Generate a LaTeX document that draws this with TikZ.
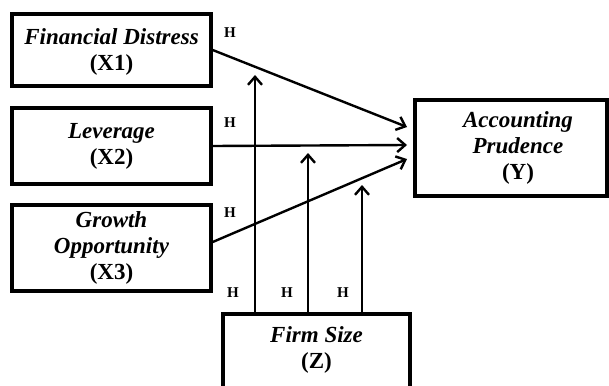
\documentclass[tikz,border=0pt]{standalone}
\usepackage{fontspec}
\setmainfont{Liberation Serif}
\usetikzlibrary{fit,arrows.meta}

\begin{document}
\begin{tikzpicture}[x=1pt,y=-1pt,
    var/.style={draw, line width=3.4pt, inner sep=0pt},
    vtext/.style={align=center, font=\fontsize{23}{26}\selectfont\bfseries},
    hyp/.style={font=\fontsize{15}{17}\selectfont\bfseries},
    link/.style={line width=2.4pt, -{Straight Barb[length=8pt,width=14pt,line width=2.4pt]}}]
    \clip (0,0) rectangle (609,385);

    \node[var, fit={(12,14) (211,86)}, label={[vtext,yshift=-2pt]center:{\textit{Financial Distress}\\(X1)}}] (x1) {};
    \node[var, fit={(12,108) (211,184)}, label={[vtext]center:{\textit{Leverage}\\(X2)}}] (x2) {};
    \node[var, fit={(12,205) (211,291)}, label={[vtext]center:{\textit{Growth}\\\textit{Opportunity}\\(X3)}}] (x3) {};

    \node[var, fit={(415,100) (607,196)}, label={[vtext,xshift=7pt]center:{\textit{Accounting}\\\textit{Prudence}\\(Y)}}] (y) {};
    \node[var, fit={(223,314) (410,394)}, label={[vtext,yshift=4pt]center:{\textit{Firm Size}\\(Z)}}] (z) {};

    \coordinate (y1) at (407,127);
    \coordinate (y2) at (407,145);
    \coordinate (y3) at (407,159);
    \coordinate (m1) at (255,75);
    \coordinate (m2) at (308,153);
    \coordinate (m3) at (362,185);

    \node[hyp] (h1) at (230,33) {H};
    \node[hyp] (h2) at (230,123) {H};
    \node[hyp] (h3) at (230,213) {H};
    \node[hyp] (h4) at (233,293) {H};
    \node[hyp] (h5) at (287,293) {H};
    \node[hyp] (h6) at (343,293) {H};

    \draw[link] (x1.east) -- (y1);
    \draw[link] (x2.east) -- (y2);
    \draw[link] ([yshift=6pt]x3.east) -- (y3);
    \draw[link] (z.north -| m1) -- (m1);
    \draw[link] (z.north -| m2) -- (m2);
    \draw[link] (z.north -| m3) -- (m3);
\end{tikzpicture}
\end{document}
